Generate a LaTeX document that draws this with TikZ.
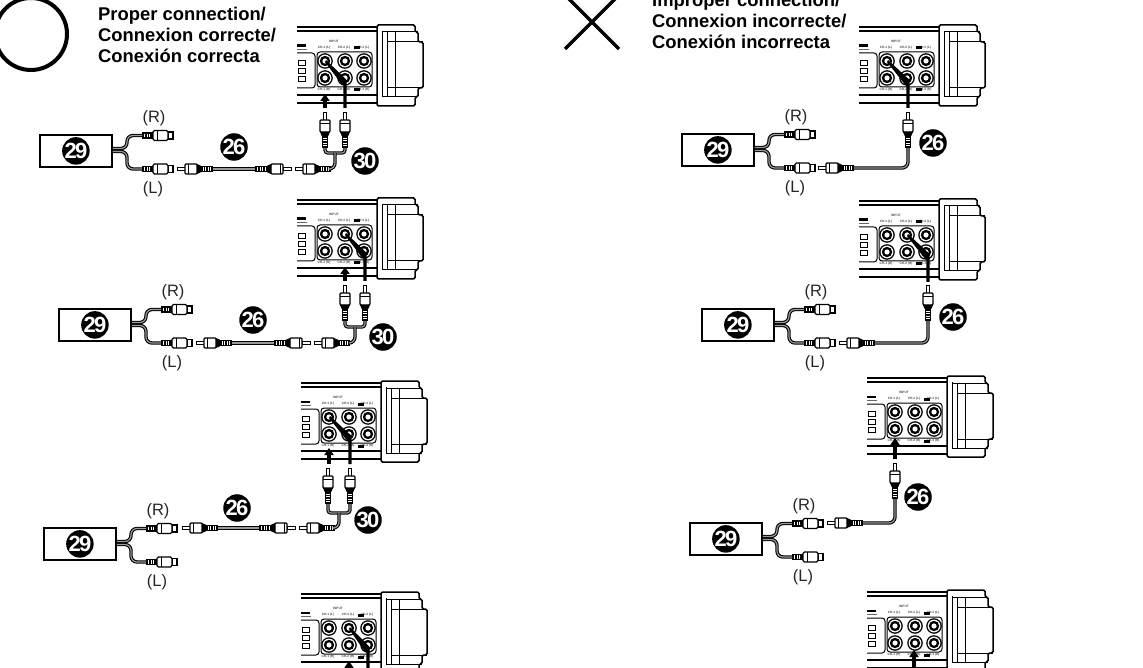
\documentclass[tikz,border=0pt]{standalone}
\usepackage{fontspec}
\setmainfont{Liberation Sans}
\usetikzlibrary{arrows.meta}
\tikzset{
  srcbox/.style={draw=black,line width=1.8pt,fill=white,minimum width=72pt,minimum height=32pt,anchor=north west,inner sep=0pt},
  numb/.style={circle,fill=black,text=white,minimum size=26.5pt,inner sep=0pt,font=\fontsize{22}{22}\selectfont\bfseries},
  lbl/.style={inner sep=0pt,font=\fontsize{16.5}{16.5}\selectfont,text=black!85},
  head/.style={inner sep=0pt,anchor=north west,align=left,font=\fontsize{18.4}{21}\selectfont\bfseries},
  tiny/.style={inner sep=0pt,font=\fontsize{3.2}{3.2}\selectfont\bfseries,text=black!70},
  cable/.style={draw=black,line width=1.1pt,double=black!40,double distance=1.2pt,rounded corners=6pt},
  arw/.style={line width=3.4pt,-{Triangle[length=7pt,width=9pt]}},
  plugline/.style={draw=black,line width=1.1pt,fill=white}
}
\newcommand\mplug[4]{%
  \begin{scope}[shift={(#2,#3)},rotate=#4]
    \draw[draw=black,line width=.9pt,fill=white] (0,-1.3) rectangle (8,1.3);
    \draw[plugline,rounded corners=1pt] (8,-5) rectangle (20,5);
    \draw[line width=.9pt] (11,-5) -- (11,5);
    \fill[black] (20,-5) -- (24,-3.2) -- (24,3.2) -- (20,5) -- cycle;
    \fill[black] (23,-3.4) rectangle (36,3.4);
    \foreach \r in {26,28.5,31,33.5} \draw[white,line width=.6pt] (\r,-1.8) -- (\r,1.8);
    \coordinate (#1) at (36,0);
  \end{scope}}
\newcommand\fplug[3]{%
  \begin{scope}[shift={(#2,#3)}]
    \coordinate (#1) at (0,0);
    \fill[black] (0,-3.4) rectangle (11,3.4);
    \foreach \r in {2.5,5,7.5} \draw[white,line width=.6pt] (\r,-1.8) -- (\r,1.8);
    \draw[plugline] (26,-3.5) rectangle (31,3.5);
    \draw[plugline,rounded corners=1.5pt] (11,-5) rectangle (26,5);
    \draw[line width=.9pt] (15,-5) -- (15,5);
  \end{scope}}
\newcommand\source[2]{%
  \begin{scope}[shift={(#1,#2)}]
    \node[srcbox] (box) at (1,1) {};
    \node[numb] (num) at (box.center) {2\kern-1.8pt 9};
    \coordinate (o1) at (box.east |- 0,15.5);
    \coordinate (o2) at (box.east |- 0,18.5);
    \fplug{pr}{104}{2.5}
    \fplug{pl}{104}{36}
    \draw[cable] (o1) -- (89,15.5) -- (89,2.5) -- (pr);
    \draw[cable] (o2) -- (89,18.5) -- (89,36) -- (pl);
    \node[lbl] (rl) at (116,-15) {(R)};
    \node[lbl] (ll) at (115,56) {(L)};
  \end{scope}}
\newcommand\device[3]{%
  \begin{scope}[shift={(#1,#2)}]
    \draw[line width=1.8pt] (0,2) -- (80,2);
    \draw[line width=1.1pt] (0,6) -- (85,6);
    \draw[line width=1.1pt] (0,70) -- (80,70);
    \draw[line width=2pt] (0,78) -- (80,78);
    \draw[line width=1.5pt,fill=white,rounded corners=1.5pt]
      (80,0) -- (118,0) -- (118,7) -- (121,7) -- (121,17) -- (126,17) -- (126,63)
      -- (121,63) -- (121,72) -- (118,72) -- (118,81) -- (80,81) -- cycle;
    \draw[line width=1pt] (85,6) -- (85,72) -- (121,72);
    \draw[line width=1pt] (85,7) -- (121,7);
    \draw[line width=1pt] (90,7) -- (90,72);
    \draw[line width=.7pt] (98,7) -- (98,72);
    \draw[line width=1pt] (90,17) -- (126,17);
    \draw[line width=1pt] (90,63) -- (126,63);
    \draw[line width=1pt,rounded corners=3pt] (0,28) -- (18,28) -- (18,63) -- (0,63);
    \foreach \r in {38,46,54} \draw[line width=.9pt] (1,\r-2.4) rectangle (8,\r+2.4);
    \fill[black] (0,19.5) rectangle (9,22);
    \draw[black!60,line width=.9pt] (0,24) -- (10,24);
    \draw[line width=1pt,rounded corners=3pt] (20,27) rectangle (75,62);
    \foreach \c in {28,48,67} \foreach \rr in {36,53} {
      \fill[black] (\c,\rr) circle (7.8);
      \fill[white] (\c,\rr) circle (6.4);
      \fill[black] (\c,\rr) circle (5.2);
      \fill[white] (\c,\rr) circle (2.6);
    }
    \node[tiny] (inp) at (37,16) {INPUT};
    \node[tiny] (t1) at (27,23) {CH-1 (L)};
    \node[tiny] (t2) at (47,23) {CH-2 (L)};
    \node[tiny] (t3) at (66,23) {CH-3 (L)};
    \node[tiny] (b1) at (27,65) {CH-1 (R)};
    \node[tiny] (b2) at (47,65) {CH-2 (R)};
    \node[tiny] (b3) at (66,65) {CH-3 (R)};
    \fill[black] (57,21.5) rectangle (63,24.5);
    \fill[black] (57,63.5) rectangle (63,66.5);
    #3
  \end{scope}}
\newcommand\arrowin[2]{%
  \coordinate (ab#1) at (#1,83); \coordinate (at#1) at (#1,#2);
  \draw[arw] (ab#1) -- (at#1);}
\newcommand\diagwire[2]{%
  \fill[black] (#1+1.7,83) -- (#1+1.7,55) -- (#2+1,35) -- (#2,37) -- (#1-3.5,59) -- (#1-1.7,60) -- (#1-1.7,83) -- cycle;}
\newcommand\twinrun[7]{% hy ltip rtip xa xb tipy mergey
  \mplug{c1}{#2}{#1}{0}
  \mplug{c2}{#3}{#1}{180}
  \draw[cable] (c1) -- (c2);
  \mplug{c3}{#3+4}{#1}{0}
  \mplug{va}{#4}{#6}{-90}
  \mplug{vb}{#5}{#6}{-90}
  \coordinate (mg) at ({(#4+#5)/2},#7);
  \draw[cable,rounded corners=3pt] (va) |- (mg);
  \draw[cable,rounded corners=3pt] (vb) |- (mg);
  \draw[cable] (mg) |- (c3);}
\newcommand\singlerun[4]{% hy ltip x tipy
  \mplug{c1}{#2}{#1}{0}
  \mplug{va}{#3}{#4}{-90}
  \draw[cable] (c1) -| (va);}
\begin{document}
\begin{tikzpicture}[x=1pt,y=-1pt]
\useasboundingbox (0,0) rectangle (1143,668);
\clip (0,0) rectangle (1143,668);
\fill[white] (0,0) rectangle (1143,668);

\draw[line width=4pt] (31,34) circle (36);
\node[head] (proper) at (98,7) {Proper connection/\\Connexion correcte/\\Conexión correcta};
\draw[line width=3.5pt] (565,49) -- (619,-5);
\draw[line width=3.5pt] (619,49) -- (565,-5);
\node[head] (improper) at (652,-7.5) {Improper connection/\\Connexion incorrecte/\\Conexión incorrecta};

\begin{scope}[name prefix=a-]
  \device{297}{25}{\arrowin{28}{69}\diagwire{48}{28}}
  \source{38}{133}
  \twinrun{169}{177}{291}{325}{345}{112}{153}
  \node[numb] (n26) at (234,147) {2\kern-1.8pt 6};
  \node[numb] (n30) at (365,161) {3\kern-1.8pt 0};
\end{scope}
\begin{scope}[name prefix=b-]
  \device{297}{198}{\arrowin{48}{69}\diagwire{68}{48}}
  \source{57}{307}
  \twinrun{343}{196}{310}{345}{365}{285}{327}
  \node[numb] (n26) at (253,320) {2\kern-1.8pt 6};
  \node[numb] (n30) at (383,337) {3\kern-1.8pt 0};
\end{scope}
\begin{scope}[name prefix=c-]
  \device{301}{381}{\arrowin{28}{67}\diagwire{49}{28}}
  \source{42}{526}
  \twinrun{528}{182}{295}{328}{350}{468}{513}
  \node[numb] (n26) at (237,508) {2\kern-1.8pt 6};
  \node[numb] (n30) at (368,520) {3\kern-1.8pt 0};
\end{scope}
\begin{scope}[name prefix=d-]
  \device{301}{592}{\arrowin{48}{69}\diagwire{67}{48}}
\end{scope}

\begin{scope}[name prefix=e-]
  \device{859}{25}{\diagwire{49}{28}}
  \source{680}{132}
  \singlerun{168}{818}{908}{112}
  \node[numb] (n26) at (933,143) {2\kern-1.8pt 6};
\end{scope}
\begin{scope}[name prefix=f-]
  \device{859}{199}{\diagwire{69}{48}}
  \source{700}{307}
  \singlerun{343}{839}{928}{285}
  \node[numb] (n26) at (953,317) {2\kern-1.8pt 6};
\end{scope}
\begin{scope}[name prefix=g-]
  \device{867}{376}{\arrowin{28}{62}}
  \source{688}{521}
  \singlerun{523}{827}{895}{463}
  \node[numb] (n26) at (918,497) {2\kern-1.8pt 6};
\end{scope}
\begin{scope}[name prefix=h-]
  \device{867}{590}{\arrowin{47}{60}}
\end{scope}
\end{tikzpicture}
\end{document}
